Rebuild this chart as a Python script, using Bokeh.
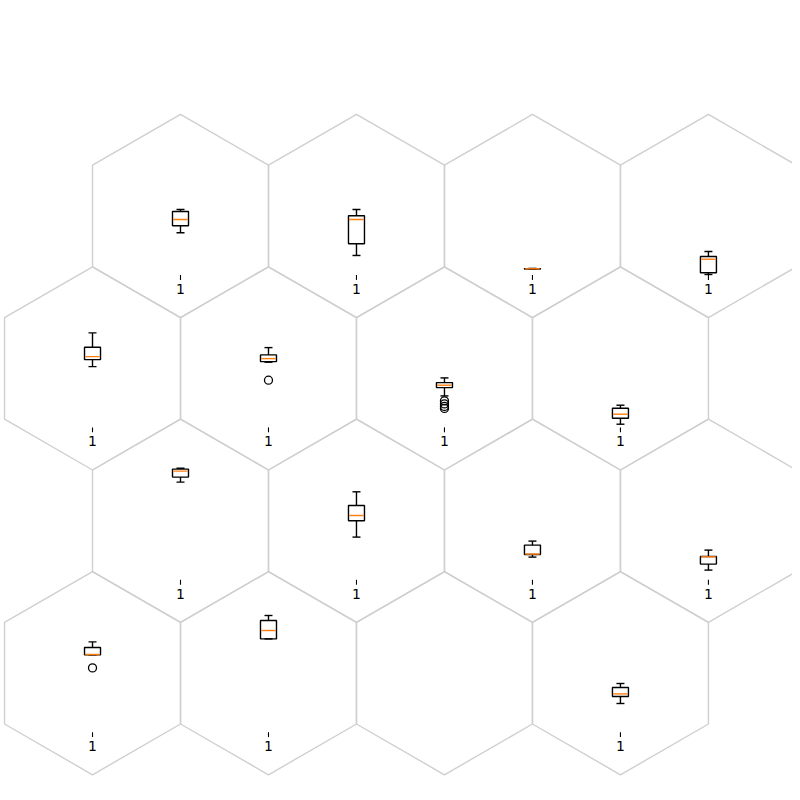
import numpy as np
from bokeh.plotting import figure
from bokeh.models import Range1d, ColumnDataSource
from bokeh.core.properties import value
from bokeh.embed import file_html
from bokeh.resources import INLINE

# hex grid cells (row, col) that carry a boxplot; row 3 col 2 is empty
cell_row = [0, 0, 0, 0, 1, 1, 1, 1, 2, 2, 2, 2, 3, 3, 3]
cell_col = [0, 1, 2, 3, 0, 1, 2, 3, 0, 1, 2, 3, 0, 1, 3]

# boxplot stats per cell, in each inset axis' own units (height above its baseline)
whisker_hi = [65.5, 65.5, 6.6, 23.5, 94.5, 79.8, 49.5, 22.2, 111.5, 88.0, 38.7, 29.7, 90.3, 116.7, 48.7]
q3 = [63.5, 59.2, 6.4, 18.5, 80.2, 72.5, 44.8, 19.2, 110.7, 74.3, 34.7, 23.3, 84.7, 111.7, 44.7]
median = [55.5, 55.5, 6.2, 15.8, 70.8, 68.8, 42.2, 13.2, 108.7, 64.3, 25.7, 23.0, 77.7, 101.7, 38.3]
q1 = [49.2, 31.2, 6.0, 2.2, 67.8, 65.8, 39.8, 9.2, 102.7, 59.0, 25.3, 15.7, 77.3, 93.3, 35.7]
whisker_lo = [42.2, 19.5, 5.8, 0.5, 60.8, 65.2, 31.5, 3.2, 97.7, 42.7, 22.7, 9.7, 77.3, 93.3, 28.7]
outliers = [[], [], [], [], [], [47.2], [26.5, 23.5, 21.0, 19.0], [], [], [], [], [], [64.3], [], []]
tick_label = "1"

# grid geometry (screen-like units, y grows downward)
R = 101.6
W = np.sqrt(3) * R
X0, Y0 = 180.0, 215.5
BASE_OFF = 59.0
BOX_HW = 8.0
CAP_HW = 4.0


def center(r, c):
    x = X0 + c * W - (W / 2 if r % 2 == 1 else 0)
    y = Y0 + r * 1.5 * R
    return x, y


p = figure(width=792, height=792, output_backend="svg", toolbar_location=None,
           x_range=Range1d(0, 792), y_range=Range1d(792, 0), min_border=0)
p.axis.visible = False
p.grid.visible = False
p.outline_line_color = None

# hexagons
xs, ys = [], []
for r in range(4):
    for c in range(4):
        cx, cy = center(r, c)
        ang = np.deg2rad(np.arange(6) * 60 - 90)
        xs.append(list(cx + R * np.cos(ang)))
        ys.append(list(cy + R * np.sin(ang)))
p.patches(xs, ys, fill_color=None, line_color="#cfcfcf", line_width=1.4)

cx = np.array([center(r, c)[0] for r, c in zip(cell_row, cell_col)])
base = np.array([center(r, c)[1] + BASE_OFF for r, c in zip(cell_row, cell_col)])
src = ColumnDataSource(dict(
    x=cx, base=base,
    left=cx - BOX_HW, right=cx + BOX_HW,
    cl=cx - CAP_HW, cr=cx + CAP_HW,
    ml=cx - BOX_HW + 0.7, mr=cx + BOX_HW - 0.7,
    whi=base - np.array(whisker_hi), q3=base - np.array(q3),
    med=base - np.array(median), q1=base - np.array(q1),
    wlo=base - np.array(whisker_lo),
    tick_end=base + 4.9, lab=base + 9.0,
    txt=[tick_label] * len(cx),
))

# whiskers and caps
p.segment(x0="x", y0="q3", x1="x", y1="whi", source=src, line_color="black", line_width=1.4)
p.segment(x0="x", y0="q1", x1="x", y1="wlo", source=src, line_color="black", line_width=1.4)
p.segment(x0="cl", y0="whi", x1="cr", y1="whi", source=src, line_color="black", line_width=1.4)
p.segment(x0="cl", y0="wlo", x1="cr", y1="wlo", source=src, line_color="black", line_width=1.4)
# boxes
p.quad(left="left", right="right", top="q3", bottom="q1", source=src,
       fill_color=None, line_color="black", line_width=1.4)
# medians
p.segment(x0="ml", y0="med", x1="mr", y1="med", source=src, line_color="#ff7f0e", line_width=1.4)

# outliers
ox, oy = [], []
for i, vals in enumerate(outliers):
    for v in vals:
        ox.append(cx[i])
        oy.append(base[i] - v)
p.scatter(ox, oy, marker="circle", size=8, fill_color=None, line_color="black", line_width=1.3)

# x tick and label "1" of each inset axis
p.segment(x0="x", y0="base", x1="x", y1="tick_end", source=src, line_color="black", line_width=1.1)
p.text(x="x", y="lab", text="txt", source=src, text_align="center", text_baseline="top",
       text_font=value("DejaVu Sans"), text_font_size="14px", text_color="black")

open("out.html", "w").write(file_html(p, INLINE))
